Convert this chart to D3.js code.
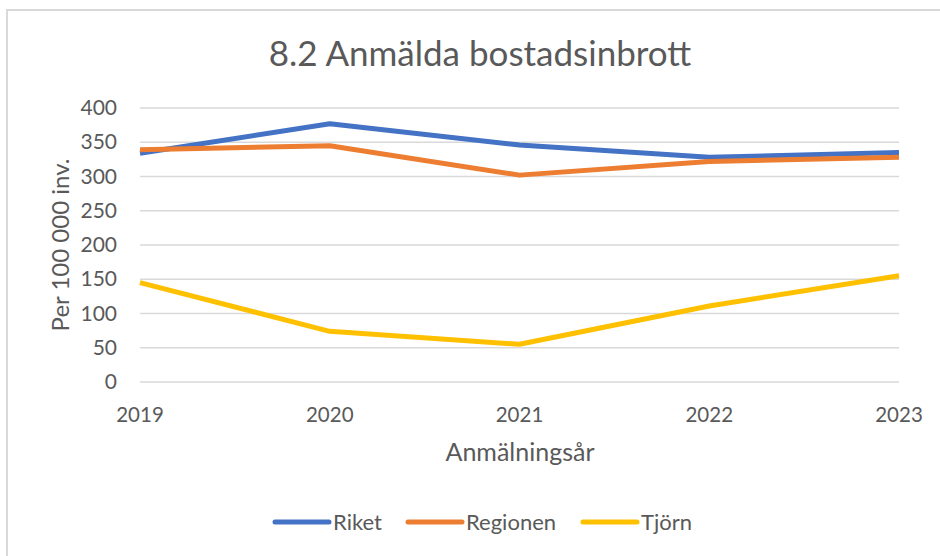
<!DOCTYPE html>
<html lang="sv">
<head>
  <meta charset="UTF-8">
  <title>8.2 Anmälda bostadsinbrott</title>
  <script src="https://d3js.org/d3.v7.min.js"></script>
  <style>
    body { margin: 0; background: #fff; }
    svg text { font-family: Lato, "Open Sans", sans-serif; fill: #595959; }
  </style>
</head>
<body>
  <div id="chart"></div>
  <script>
  const years = ['2019', '2020', '2021', '2022', '2023']
  const riket = [334, 377, 346, 328, 335]
  const regionen = [339, 345, 302, 322, 328]
  const tjorn = [145, 74, 55, 111, 155]
  const yTicks = [0, 50, 100, 150, 200, 250, 300, 350, 400]

  const series = [
    { name: 'Riket', values: riket, color: '#4472c4' },
    { name: 'Regionen', values: regionen, color: '#ed7d31' },
    { name: 'Tjörn', values: tjorn, color: '#ffc000' }
  ]

  const width = 940, height = 556
  const svg = d3.select('#chart')
    .append('svg')
    .attr('width', width)
    .attr('height', height)

  // chart frame
  svg.append('rect')
    .attr('x', 7).attr('y', 10)
    .attr('width', 960).attr('height', 560)
    .attr('fill', 'none')
    .attr('stroke', '#d9d9d9')
    .attr('stroke-width', 2)

  const x = d3.scalePoint().domain(years).range([140, 899])
  const y = d3.scaleLinear().domain([0, 400]).range([382, 108])

  // gridlines
  svg.append('g')
    .selectAll('line')
    .data(yTicks)
    .enter()
    .append('line')
    .attr('x1', 140).attr('x2', 899)
    .attr('y1', d => y(d)).attr('y2', d => y(d))
    .attr('stroke', '#d9d9d9')
    .attr('stroke-width', 1.3)

  // y tick labels
  svg.append('g')
    .selectAll('text')
    .data(yTicks)
    .enter()
    .append('text')
    .attr('x', 117)
    .attr('y', d => y(d) + 7)
    .attr('text-anchor', 'end')
    .style('font-size', '21px')
    .text(d => d)

  // x tick labels
  svg.append('g')
    .selectAll('text')
    .data(years)
    .enter()
    .append('text')
    .attr('x', d => x(d))
    .attr('y', 422)
    .attr('text-anchor', 'middle')
    .style('font-size', '20.5px')
    .text(d => d)

  const line = d3.line()
    .x((d, i) => x(years[i]))
    .y(d => y(d))

  svg.append('g')
    .selectAll('path')
    .data(series)
    .enter()
    .append('path')
    .attr('d', d => line(d.values))
    .attr('fill', 'none')
    .attr('stroke', d => d.color)
    .attr('stroke-width', 5)
    .attr('stroke-linejoin', 'round')

  // title
  svg.append('text')
    .attr('x', 480).attr('y', 66)
    .attr('text-anchor', 'middle')
    .style('font-size', '35px')
    .text('8.2 Anmälda bostadsinbrott')

  // axis titles
  svg.append('text')
    .attr('x', 520).attr('y', 461)
    .attr('text-anchor', 'middle')
    .style('font-size', '25px')
    .text('Anmälningsår')

  svg.append('text')
    .attr('transform', 'translate(69, 245) rotate(-90)')
    .attr('text-anchor', 'middle')
    .style('font-size', '24px')
    .text('Per 100 000 inv.')

  // legend
  const legendX = [275, 408, 583]
  const legend = svg.append('g')
    .selectAll('g')
    .data(series)
    .enter()
    .append('g')
    .attr('transform', (d, i) => `translate(${legendX[i]}, 522)`)
  legend.append('line')
    .attr('x1', 0).attr('x2', 54)
    .attr('y1', 0).attr('y2', 0)
    .attr('stroke', d => d.color)
    .attr('stroke-width', 5)
    .attr('stroke-linecap', 'round')
  legend.append('text')
    .attr('x', 58).attr('y', 8)
    .style('font-size', '22px')
    .text(d => d.name)
  </script>
</body>
</html>
